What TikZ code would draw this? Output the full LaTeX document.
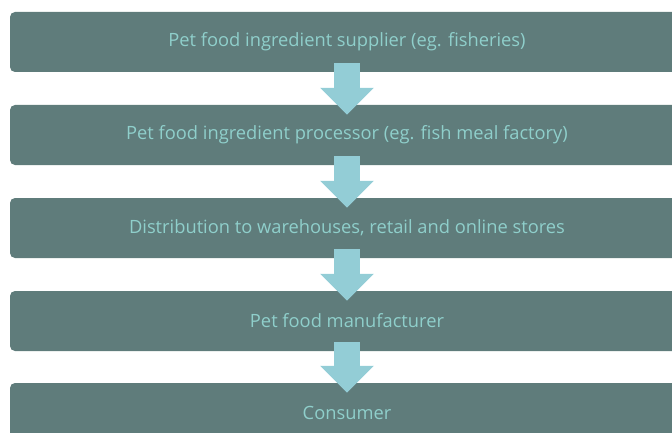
\documentclass[tikz,border=0pt]{standalone}
\usepackage{fontspec}
\setmainfont{Open Sans}
\usetikzlibrary{arrows.meta}
\definecolor{boxfill}{HTML}{5F7C7B}
\definecolor{boxtext}{HTML}{8FCFCB}
\definecolor{arrowfill}{HTML}{93CDD6}
\tikzset{
    stage/.style={rectangle, rounded corners=5pt, fill=boxfill, text=boxtext,
        minimum width=674pt, minimum height=60pt, inner sep=0pt,
        font=\fontsize{18.3}{22}\selectfont},
    flow/.style={draw=arrowfill, line width=26pt,
        -{Triangle[width=52pt, length=27pt, fill=arrowfill]}}
}
\begin{document}
\begin{tikzpicture}[x=1pt, y=1pt]
        \useasboundingbox (0, 0) rectangle (672, 432);
        \clip (0, 0) rectangle (672, 432);

        \node[stage] (supplier) at (347, 390) {Pet food ingredient supplier (eg. fisheries)};
        \node[stage] (processor) at (347, 297) {Pet food ingredient processor (eg. fish meal factory)};
        \node[stage] (distribution) at (347, 204) {Distribution to warehouses, retail and online stores};
        \node[stage] (manufacturer) at (347, 111) {Pet food manufacturer};
        \node[stage] (consumer) at (347, 19) {Consumer};

        \draw[flow] ([yshift=9pt]supplier.south) -- ([yshift=-10pt]processor.north);
        \draw[flow] ([yshift=9pt]processor.south) -- ([yshift=-10pt]distribution.north);
        \draw[flow] ([yshift=9pt]distribution.south) -- ([yshift=-10pt]manufacturer.north);
        \draw[flow] ([yshift=9pt]manufacturer.south) -- ([yshift=-10pt]consumer.north);

    \end{tikzpicture}
\end{document}
